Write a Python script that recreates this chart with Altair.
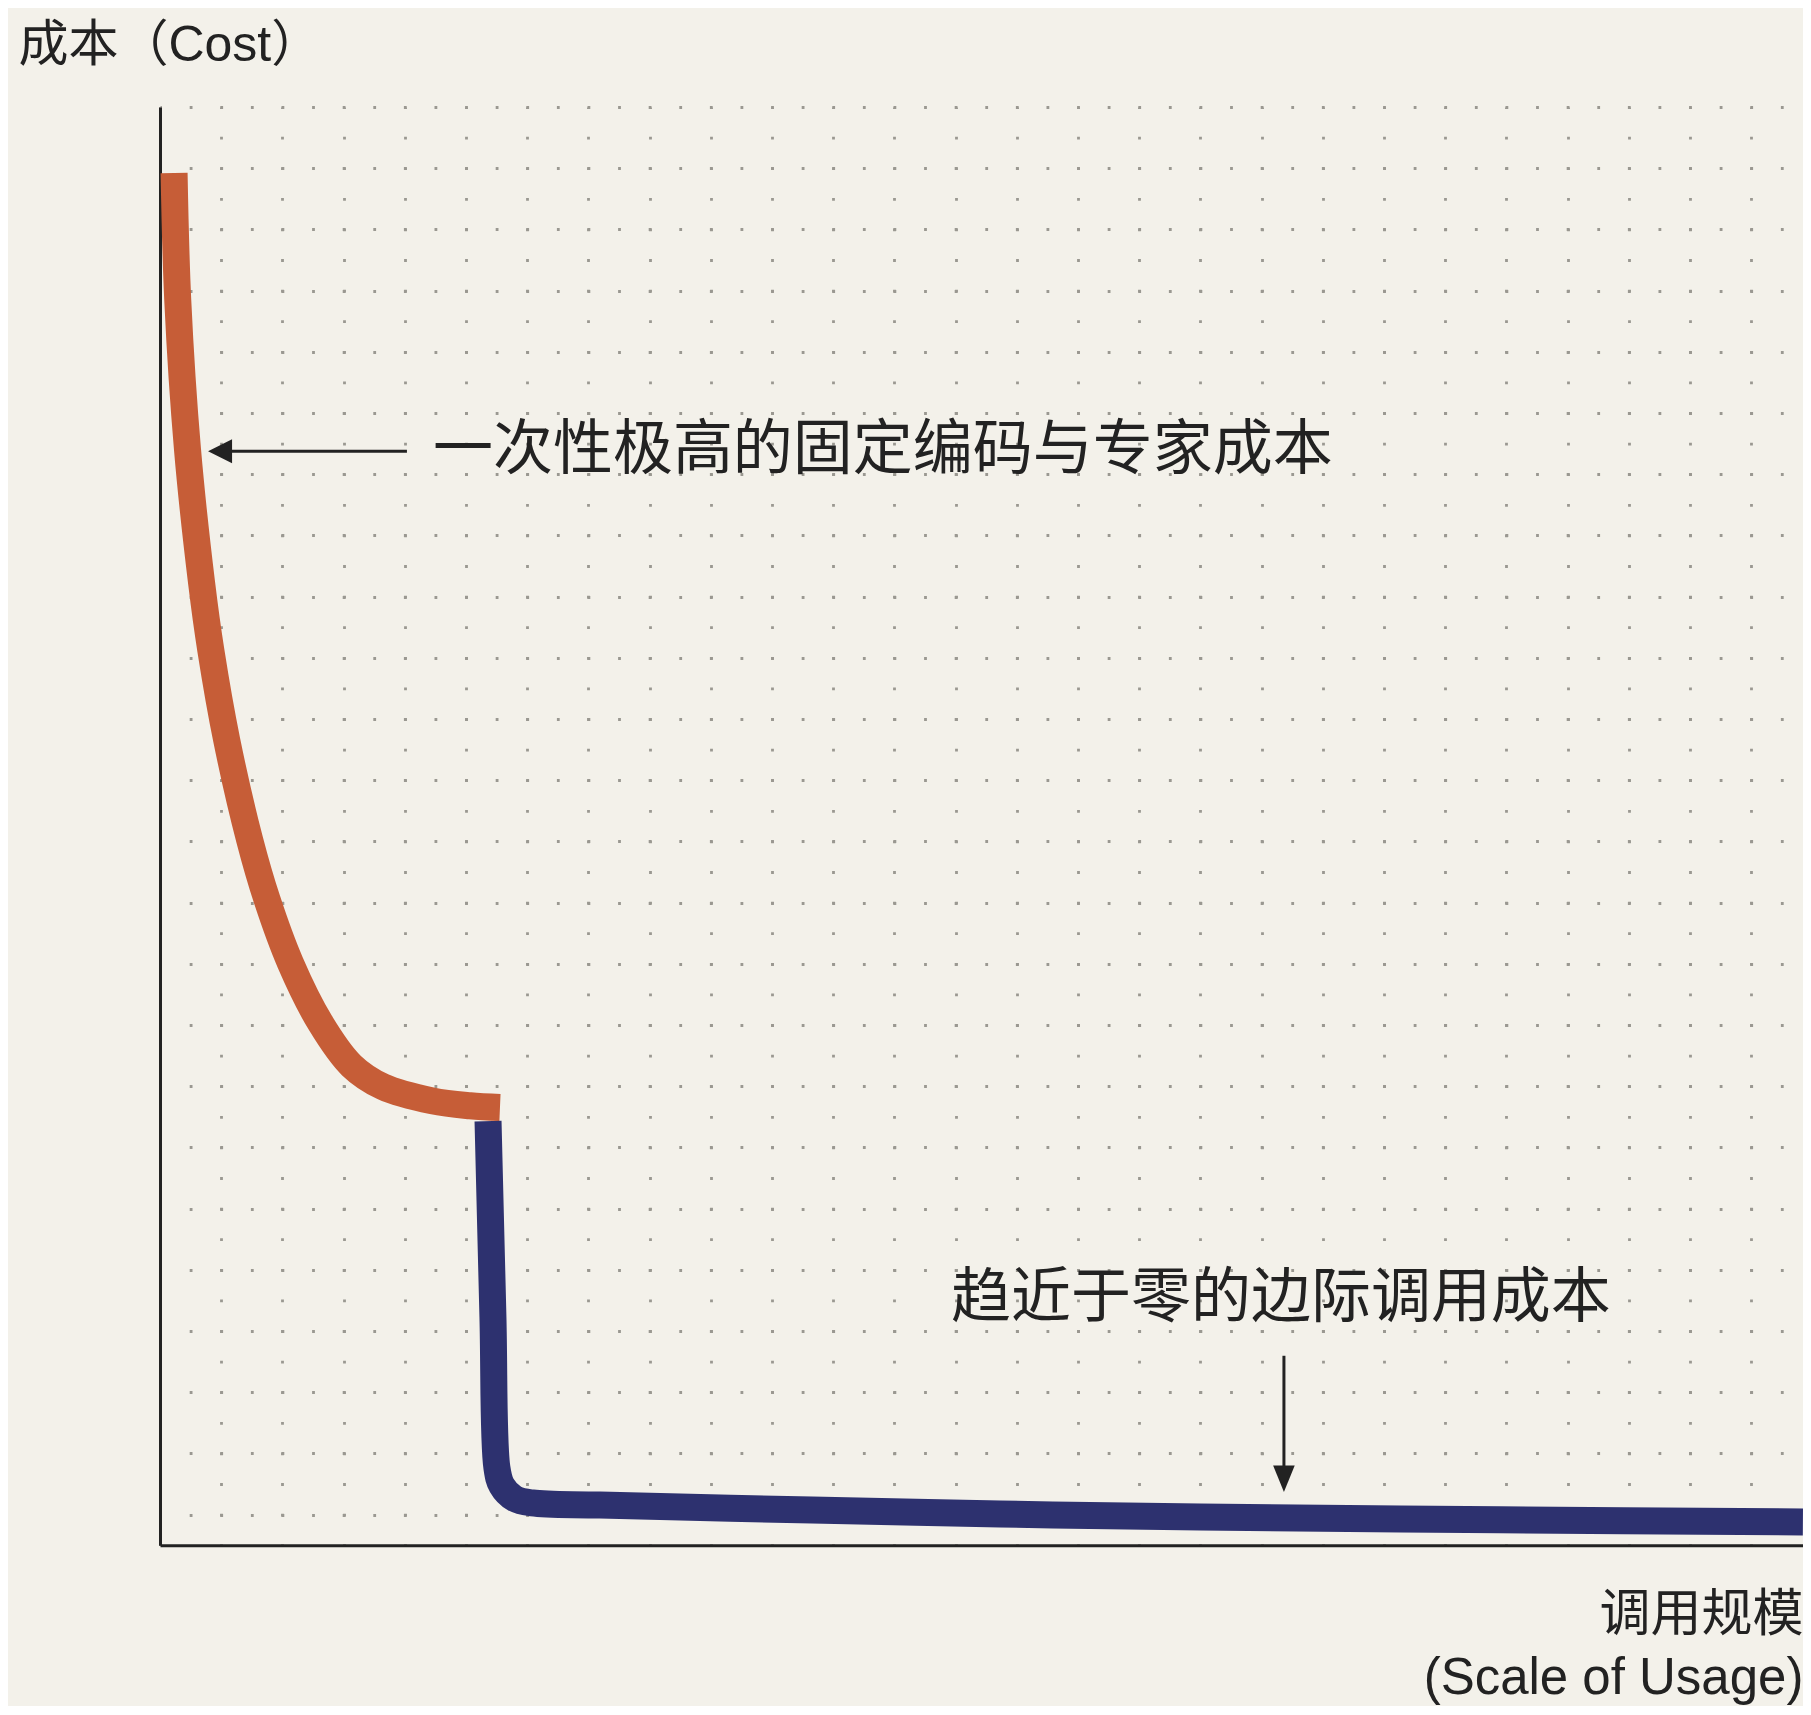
import altair as alt
import pandas as pd

# ---- layout units: one grid step of the dotted paper ----
U = 30.6          # pixels per unit
X_MAX = 53.69     # plot width in units
Y_MAX = 47        # plot height in units

# ---- curve data (in grid units) ----
orange_x = [0.46, 0.58, 0.90, 1.36, 1.66, 2.18, 2.93, 3.50, 4.26, 5.24, 6.26, 7.29, 8.90, 10.13, 11.11]
orange_y = [44.84, 40.69, 35.79, 31.44, 29.25, 26.31, 23.05, 21.09, 19.03, 17.07, 15.67, 14.98, 14.52, 14.36, 14.30]

blue_x = [10.72, 10.88, 11.01, 11.17, 11.58, 12.16, 14.38, 21.31, 27.45, 33.99, 43.79, 53.69]
blue_y = [13.86, 7.46, 2.53, 1.95, 1.53, 1.38, 1.31, 1.15, 1.02, 0.92, 0.83, 0.76]

series_names = ["固定成本", "边际成本"]
series_colors = ["#C65D37", "#2D316F"]

# ---- annotations ----
note_texts = ["一次性极高的固定编码与专家成本", "趋近于零的边际调用成本"]
note_x = [8.92, 25.85]
note_y = [35.75, 8.05]

arrow_tail_x = [8.07, 36.73]
arrow_tail_y = [35.75, 6.19]
arrow_base_x = [2.17, 36.73]
arrow_base_y = [35.75, 2.34]
arrow_tip_x = [1.57, 36.73]
arrow_tip_y = [35.75, 1.74]
arrow_shapes = ["M0,0L2,-1L2,1Z", "M0,0L-0.9,-2.2L0.9,-2.2Z"]

y_title = "成本（Cost）"
x_title = ["调用规模", "(Scale of Usage)"]

# ---- tables ----
curves = pd.DataFrame(
    {"x": orange_x + blue_x,
     "y": orange_y + blue_y,
     "series": [series_names[0]] * len(orange_x) + [series_names[1]] * len(blue_x),
     "i": list(range(len(orange_x))) + list(range(len(blue_x)))}
)
notes = pd.DataFrame({"label": note_texts, "x": note_x, "y": note_y})
arrows = pd.DataFrame({
    "x": arrow_tail_x, "y": arrow_tail_y,
    "x2": arrow_base_x, "y2": arrow_base_y,
    "tx": arrow_tip_x, "ty": arrow_tip_y,
    "shape": arrow_shapes,
})

x_scale = alt.Scale(domain=[0, X_MAX], nice=False, zero=False)
y_scale = alt.Scale(domain=[0, Y_MAX], nice=False, zero=False)

DOT = "#9a9891"
INK = "#222222"
LATIN_CJK = "Liberation Sans, Noto Sans CJK SC"

x_axis = alt.Axis(
    values=list(range(0, 54, 2)),
    grid=True, gridColor=DOT, gridWidth=2.8, gridOpacity=1,
    gridDash=[2.8, U - 2.8], gridDashOffset=1.4,
    ticks=False, labels=False,
    domain=True, domainColor=INK, domainWidth=3,
    title=x_title, titleFont=LATIN_CJK, titleFontSize=51, titleFontWeight="normal",
    titleColor=INK, titleAlign="right", titleAnchor="end",
    titleX=X_MAX * U, titleY=85, titleBaseline="alphabetic", titleLineHeight=63,
)
y_axis = alt.Axis(
    values=list(range(47, 0, -2)),
    grid=True, gridColor=DOT, gridWidth=2.8, gridOpacity=1,
    gridDash=[2.8, U - 2.8], gridDashOffset=1.4,
    ticks=False, labels=False,
    domain=True, domainColor=INK, domainWidth=3,
    title=y_title, titleFont=LATIN_CJK, titleFontSize=50, titleFontWeight="normal",
    titleColor=INK, titleAngle=0, titleAlign="left", titleBaseline="alphabetic",
    titleX=-142, titleY=-46,
)


def X(field):
    return alt.X(field, scale=x_scale, axis=x_axis)


def Y(field):
    return alt.Y(field, scale=y_scale, axis=y_axis)


lines = alt.Chart(curves).mark_line(
    strokeWidth=27, strokeCap="butt", strokeJoin="round", interpolate="catmull-rom"
).encode(
    x=X("x:Q"),
    y=Y("y:Q"),
    color=alt.Color("series:N", scale=alt.Scale(domain=series_names, range=series_colors), legend=None),
    detail="series:N",
    order="i:Q",
)

shafts = alt.Chart(arrows).mark_rule(color=INK, strokeWidth=3).encode(
    x=X("x:Q"),
    y=Y("y:Q"),
    x2="x2:Q", y2="y2:Q",
)

heads = alt.Chart(arrows).mark_point(filled=True, color=INK, opacity=1, size=576, strokeWidth=0).encode(
    x=X("tx:Q"),
    y=Y("ty:Q"),
    shape=alt.Shape("shape:N", scale=None),
)

texts = alt.Chart(notes).mark_text(
    align="left", baseline="middle", font="Noto Sans CJK SC", fontSize=60, color=INK
).encode(
    x=X("x:Q"),
    y=Y("y:Q"),
    text="label:N",
)

chart = alt.layer(lines, shafts, heads, texts).properties(
    width=X_MAX * U,
    height=Y_MAX * U,
    padding={"left": 152, "top": 99, "right": 0, "bottom": 161},
    autosize=alt.AutoSizeParams(type="none"),
).configure(background="#F3F1EA").configure_view(stroke=None)

chart.save("out.html", embed_options={"renderer": "svg", "actions": False})
